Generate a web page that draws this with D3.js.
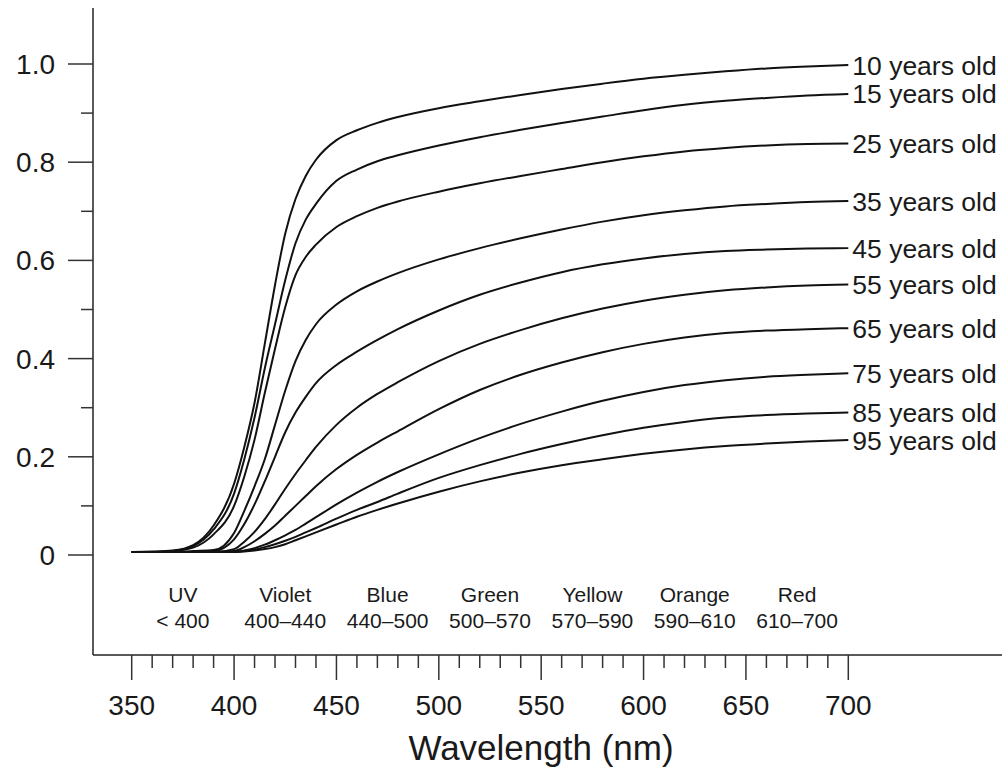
<!DOCTYPE html>
<html>
<head>
<meta charset="utf-8">
<script src="https://cdn.jsdelivr.net/npm/d3@7"></script>
<style>
    body { margin: 0; background: #fff; }
    text { font-family: "Liberation Sans", Arial, sans-serif; fill: #1a1a1a; }
</style>
</head>
<body>
<div id="chart"></div>
<script>
// wavelengths (nm) the curves are sampled at
const wavelengths = [350, 360, 370, 380, 390, 400, 405, 410, 415, 420, 425, 430, 435, 440, 450, 460, 470, 480, 500, 520, 540, 560, 580, 600, 620, 640, 660, 680, 700];

// relative transmittance per age
const age10 = [0.006, 0.007, 0.009, 0.02, 0.06, 0.145, 0.22, 0.31, 0.43, 0.55, 0.655, 0.725, 0.772, 0.805, 0.845, 0.865, 0.88, 0.892, 0.91, 0.924, 0.937, 0.949, 0.96, 0.97, 0.978, 0.985, 0.991, 0.995, 0.998];
const age15 = [0.006, 0.006, 0.008, 0.018, 0.052, 0.125, 0.195, 0.28, 0.38, 0.47, 0.56, 0.635, 0.683, 0.715, 0.762, 0.785, 0.802, 0.814, 0.834, 0.851, 0.866, 0.88, 0.893, 0.906, 0.917, 0.925, 0.931, 0.936, 0.939];
const age25 = [0.006, 0.006, 0.008, 0.015, 0.042, 0.10, 0.16, 0.235, 0.33, 0.42, 0.505, 0.57, 0.607, 0.632, 0.668, 0.69, 0.707, 0.72, 0.74, 0.757, 0.772, 0.786, 0.80, 0.812, 0.822, 0.829, 0.834, 0.837, 0.838];
const age35 = [0.006, 0.006, 0.006, 0.008, 0.01, 0.045, 0.09, 0.14, 0.195, 0.265, 0.335, 0.395, 0.438, 0.47, 0.51, 0.537, 0.557, 0.574, 0.602, 0.625, 0.645, 0.663, 0.679, 0.692, 0.702, 0.71, 0.715, 0.719, 0.721];
const age45 = [0.006, 0.006, 0.006, 0.006, 0.008, 0.032, 0.063, 0.103, 0.15, 0.20, 0.25, 0.29, 0.322, 0.35, 0.387, 0.414, 0.438, 0.46, 0.498, 0.53, 0.555, 0.576, 0.592, 0.604, 0.613, 0.619, 0.622, 0.624, 0.625];
const age55 = [0.006, 0.006, 0.006, 0.006, 0.006, 0.012, 0.027, 0.047, 0.073, 0.103, 0.135, 0.165, 0.193, 0.22, 0.265, 0.30, 0.328, 0.352, 0.395, 0.43, 0.458, 0.482, 0.502, 0.518, 0.53, 0.539, 0.545, 0.549, 0.551];
const age65 = [0.006, 0.006, 0.006, 0.006, 0.006, 0.008, 0.016, 0.028, 0.043, 0.06, 0.08, 0.10, 0.12, 0.14, 0.175, 0.204, 0.229, 0.252, 0.297, 0.336, 0.367, 0.392, 0.413, 0.43, 0.443, 0.452, 0.457, 0.46, 0.462];
const age75 = [0.006, 0.006, 0.006, 0.006, 0.006, 0.006, 0.009, 0.014, 0.021, 0.03, 0.04, 0.051, 0.064, 0.077, 0.103, 0.127, 0.149, 0.169, 0.205, 0.238, 0.267, 0.292, 0.314, 0.332, 0.346, 0.356, 0.363, 0.367, 0.37];
const age85 = [0.006, 0.006, 0.006, 0.006, 0.006, 0.006, 0.008, 0.011, 0.016, 0.022, 0.029, 0.037, 0.046, 0.055, 0.074, 0.092, 0.108, 0.125, 0.157, 0.183, 0.206, 0.226, 0.244, 0.259, 0.271, 0.28, 0.285, 0.288, 0.29];
const age95 = [0.006, 0.006, 0.006, 0.006, 0.006, 0.006, 0.007, 0.009, 0.012, 0.016, 0.022, 0.03, 0.038, 0.046, 0.062, 0.078, 0.092, 0.105, 0.129, 0.15, 0.168, 0.183, 0.195, 0.206, 0.215, 0.222, 0.227, 0.231, 0.234];

const ageLabels = ["10 years old", "15 years old", "25 years old", "35 years old", "45 years old",
    "55 years old", "65 years old", "75 years old", "85 years old", "95 years old"];
const ageSeries = [age10, age15, age25, age35, age45, age55, age65, age75, age85, age95];

// colour bands under the curves
const bandNames = ["UV", "Violet", "Blue", "Green", "Yellow", "Orange", "Red"];
const bandRanges = ["< 400", "400\u2013440", "440\u2013500", "500\u2013570", "570\u2013590", "590\u2013610", "610\u2013700"];
const bandCenters = [375, 425, 475, 525, 575, 625, 675];

// ticks
const xTicks = [350, 400, 450, 500, 550, 600, 650, 700];
const xMinorTicks = d3.range(350, 701, 10);
const yTicks = [0, 0.2, 0.4, 0.6, 0.8, 1.0];
const yTickLabels = ["0", "0.2", "0.4", "0.6", "0.8", "1.0"];
const yMinorTicks = [0.1, 0.3, 0.5, 0.7, 0.9];

let width = 1007, height = 771;

let svg = d3.select("#chart").append("svg")
    .attr("width", width)
    .attr("height", height);

// scales
let x = d3.scaleLinear().domain([350, 700]).range([131.7, 848.3]);
let y = d3.scaleLinear().domain([0, 1]).range([555, 64]);

let axisX = 93, axisY = 655;

// y axis
svg.append("line")
    .attr("x1", axisX).attr("x2", axisX)
    .attr("y1", 8).attr("y2", axisY)
    .attr("stroke", "#222").attr("stroke-width", 1.5);

svg.selectAll(".ytick").data(yTicks).enter().append("line")
    .attr("class", "ytick")
    .attr("x1", axisX - 25).attr("x2", axisX)
    .attr("y1", d => y(d)).attr("y2", d => y(d))
    .attr("stroke", "#333").attr("stroke-width", 1.5);

svg.selectAll(".yminor").data(yMinorTicks).enter().append("line")
    .attr("class", "yminor")
    .attr("x1", axisX - 12).attr("x2", axisX)
    .attr("y1", d => y(d)).attr("y2", d => y(d))
    .attr("stroke", "#333").attr("stroke-width", 1.5);

svg.selectAll(".ylabel").data(yTicks).enter().append("text")
    .attr("class", "ylabel")
    .attr("x", 55)
    .attr("y", d => y(d))
    .attr("dy", "0.36em")
    .attr("text-anchor", "end")
    .style("font-size", "28px")
    .text((d, i) => yTickLabels[i]);

// x axis
svg.append("line")
    .attr("x1", axisX).attr("x2", 1002)
    .attr("y1", axisY).attr("y2", axisY)
    .attr("stroke", "#222").attr("stroke-width", 1.5);

svg.selectAll(".xminor").data(xMinorTicks.filter(d => xTicks.indexOf(d) < 0)).enter().append("line")
    .attr("class", "xminor")
    .attr("x1", d => x(d)).attr("x2", d => x(d))
    .attr("y1", axisY).attr("y2", axisY + 13)
    .attr("stroke", "#333").attr("stroke-width", 1.5);

svg.selectAll(".xtick").data(xTicks).enter().append("line")
    .attr("class", "xtick")
    .attr("x1", d => x(d)).attr("x2", d => x(d))
    .attr("y1", axisY).attr("y2", axisY + 25)
    .attr("stroke", "#333").attr("stroke-width", 1.5);

svg.selectAll(".xlabel").data(xTicks).enter().append("text")
    .attr("class", "xlabel")
    .attr("x", d => x(d))
    .attr("y", 715)
    .attr("text-anchor", "middle")
    .style("font-size", "28px")
    .text(d => d);

svg.append("text")
    .attr("x", 541)
    .attr("y", 760)
    .attr("text-anchor", "middle")
    .style("font-size", "35px")
    .text("Wavelength (nm)");

// band labels
svg.selectAll(".bandname").data(bandNames).enter().append("text")
    .attr("class", "bandname")
    .attr("x", (d, i) => x(bandCenters[i]))
    .attr("y", 602)
    .attr("text-anchor", "middle")
    .style("font-size", "21px")
    .text(d => d);

svg.selectAll(".bandrange").data(bandRanges).enter().append("text")
    .attr("class", "bandrange")
    .attr("x", (d, i) => x(bandCenters[i]))
    .attr("y", 628)
    .attr("text-anchor", "middle")
    .style("font-size", "21px")
    .text(d => d);

// curves
let line = d3.line()
    .curve(d3.curveMonotoneX)
    .x((d, i) => x(wavelengths[i]))
    .y(d => y(d));

svg.selectAll(".curve").data(ageSeries).enter().append("path")
    .attr("class", "curve")
    .attr("d", line)
    .attr("fill", "none")
    .attr("stroke", "#111")
    .attr("stroke-width", 2);

// labels at the end of each curve
svg.selectAll(".agelabel").data(ageSeries).enter().append("text")
    .attr("class", "agelabel")
    .attr("x", x(700) + 4)
    .attr("y", d => y(d[d.length - 1]))
    .attr("dy", "0.36em")
    .style("font-size", "26.5px")
    .text((d, i) => ageLabels[i]);
</script>
</body>
</html>
